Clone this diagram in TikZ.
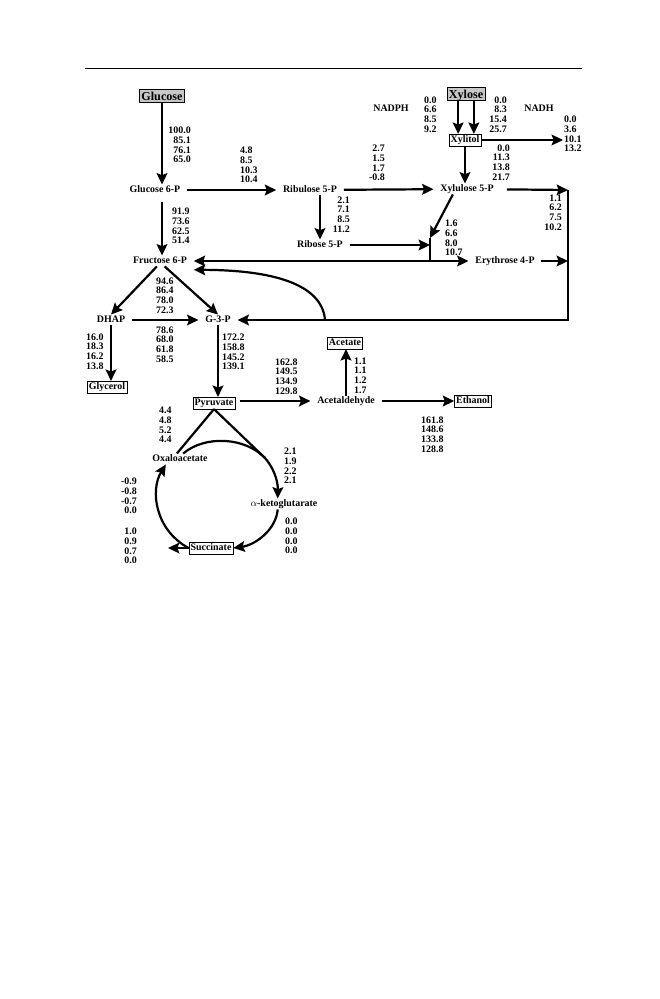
\documentclass[tikz,border=0pt]{standalone}
\usepackage{fontspec}
\setmainfont{Liberation Serif}
\usetikzlibrary{arrows.meta}

\begin{document}
\begin{tikzpicture}[
  x=0.0318cm, y=-0.0318cm,
  font=\bfseries\fontsize{9}{8.8}\selectfont,
  met/.style={inner xsep=6pt, inner ysep=1pt, text height=6.3pt, text depth=1.2pt},
  boxmet/.style={draw, line width=0.5pt, inner xsep=1.5pt, inner ysep=1.5pt, text height=6.3pt, text depth=1.2pt},
  feed/.style={draw, line width=0.5pt, fill=black!22, font=\bfseries\fontsize{11}{12}\selectfont, inner xsep=1.5pt, inner ysep=2pt, text height=7.6pt, text depth=0.3pt},
  flux/.style={inner sep=0pt, align=right},
  fluxl/.style={inner sep=0pt, align=left},
  arrow/.style={-{Stealth[length=3.6mm, width=3.4mm, inset=0.6mm]}, line width=2pt},
  link/.style={line width=2pt}
]
\useasboundingbox[fill=white] (0,0) rectangle (659,999);
\draw[line width=0.8pt] (85,68) -- (582,68);

% metabolites
\node[feed] (glc) at (162,96) {Glucose};
\node[met] (g6p) at (155,190) {Glucose 6-P};
\node[met] (ru5p) at (310,190) {Ribulose 5-P};
\node[met] (r5p) at (320,245) {Ribose 5-P};
\node[feed] (xyl) at (466,94) {Xylose};
\node[boxmet] (xoh) at (465,140) {Xylitol};
\node[met] (x5p) at (467,189) {Xylulose 5-P};
\node[met] (f6p) at (160,261) {Fructose 6-P};
\node[met] (e4p) at (505,261) {Erythrose 4-P};
\node[met] (dhap) at (111,320) {DHAP};
\node[met] (g3p) at (218,320) {G-3-P};
\node[boxmet] (glyc) at (107,387) {Glycerol};
\node[boxmet] (pyr) at (214,403) {Pyruvate};
\node[met] (acald) at (346,401) {Acetaldehyde};
\node[boxmet] (ac) at (345,343) {Acetate};
\node[boxmet] (etoh) at (473,401) {Ethanol};
\node[met] (oaa) at (180,459) {Oxaloacetate};
\node[met] (akg) at (284,504) {$\alpha$-ketoglutarate};
\node[boxmet] (suc) at (211,548) {Succinate};
\node[met] (nadph) at (391,109) {NADPH};
\node[met] (nadh) at (539,109) {NADH};

\coordinate (jn) at (430,261);
\coordinate (jt) at (430,238);
\coordinate (rtop) at (568,190);
\coordinate (cb) at (325,320);
\coordinate (nadhend) at (563,140);
\coordinate (sucout) at (168,548);
\coordinate (tca) at (265,458);

% reactions
\draw[arrow] (glc) -- (glc |- g6p.north);
\draw[arrow] (g6p) -- (ru5p);
\draw[arrow, shorten <=2mm] (glc |- g6p.south) -- (glc |- f6p.north);
\draw[arrow] (ru5p) -- (x5p);
\draw[arrow] (r5p.north |- ru5p.south) -- (r5p);
\draw[arrow] ([xshift=-0.25cm]xyl.south) -- ([xshift=-0.25cm]xyl.south |- xoh.north);
\draw[arrow] ([xshift=0.25cm]xyl.south) -- ([xshift=0.25cm]xyl.south |- xoh.north);
\draw[arrow] (xoh) -- (nadhend);
\draw[arrow] (xoh) -- (xoh |- x5p.north);
\draw[arrow, shorten <=2mm] (x5p) -- (rtop);
\draw[arrow] ([xshift=-0.45cm]x5p.south) -- (jt);
\draw[arrow] (r5p) -- (r5p -| jn);
\draw[link] (jt) -- (jn);
\draw[arrow] (jn) -- (f6p);
\draw[arrow] (jn) -- (e4p);
\draw[arrow] (e4p) -- (e4p -| rtop);
\draw[arrow] (rtop) |- (g3p);
\draw[arrow] (cb) .. controls (322,283) and (270,270) .. ([yshift=-0.28cm]f6p.east);
\draw[arrow] ([xshift=-0.1cm]f6p.south) -- (dhap.north);
\draw[arrow] ([xshift=0.15cm]f6p.south) -- (g3p.north);
\draw[arrow] (dhap) -- (g3p);
\draw[arrow] (dhap) -- (dhap |- glyc.north);
\draw[arrow] (g3p) -- (g3p |- pyr.north);
\draw[arrow, shorten <=1.5mm] (pyr.east |- acald) -- (acald);
\draw[arrow] (acald) -- (acald |- ac.south);
\draw[arrow] (acald) -- (etoh);
\draw[link] (pyr.south) -- ([xshift=-0.1cm]oaa.north);
\draw[link] (pyr.south) -- (tca);
\draw[arrow] ([xshift=0.1cm]oaa.north) .. controls (205,435) and (245,437) .. (tca)
  .. controls (273,467) and (278,480) .. ([xshift=-0.2cm]akg.north);
\draw[arrow] ([xshift=-0.2cm]akg.south) .. controls (276,530) and (255,545) .. (suc.east);
\draw[arrow] (suc) -- (sucout);
\draw[arrow] (suc.west) .. controls (155,530) and (150,490) .. ([xshift=-0.45cm]oaa.south);

% fluxes
\node[flux, anchor=east] (vglc) at (191,145) {100.0\\85.1\\76.1\\65.0};
\node[fluxl, anchor=west] (vppp) at (240,165) {4.8\\8.5\\10.3\\10.4};
\node[fluxl, anchor=west] (vpgi) at (172,226) {91.9\\73.6\\62.5\\51.4};
\node[flux, anchor=east] (vrpe) at (385,163) {2.7\\1.5\\1.7\\-0.8};
\node[flux, anchor=east] (vrpi) at (350,214.5) {2.1\\7.1\\8.5\\11.2};
\node[fluxl, anchor=west] (vxr) at (424,114.5) {0.0\\6.6\\8.5\\9.2};
\node[flux, anchor=east] (vxr2) at (507,114.5) {0.0\\8.3\\15.4\\25.7};
\node[fluxl, anchor=west] (vxoh) at (564,134) {0.0\\3.6\\10.1\\13.2};
\node[flux, anchor=east] (vxdh) at (510,162.5) {0.0\\11.3\\13.8\\21.7};
\node[fluxl, anchor=west] (vtkt) at (445,238) {1.6\\6.6\\8.0\\10.7};
\node[flux, anchor=east] (vtkt2) at (562,212.5) {1.1\\6.2\\7.5\\10.2};
\node[fluxl, anchor=west] (vald) at (156,295.5) {94.6\\86.4\\78.0\\72.3};
\node[fluxl, anchor=west] (vtpi) at (156,344.5) {78.6\\68.0\\61.8\\58.5};
\node[fluxl, anchor=west] (vgpd) at (86,351.5) {16.0\\18.3\\16.2\\13.8};
\node[fluxl, anchor=west] (vgap) at (222,352) {172.2\\158.8\\145.2\\139.1};
\node[fluxl, anchor=west] (vpdc) at (275,376.5) {162.8\\149.5\\134.9\\129.8};
\node[fluxl, anchor=west] (vacs) at (354,375.5) {1.1\\1.1\\1.2\\1.7};
\node[fluxl, anchor=west] (vadh) at (421,434.5) {161.8\\148.6\\133.8\\128.8};
\node[fluxl, anchor=west] (vpyc) at (159,425) {4.4\\4.8\\5.2\\4.4};
\node[fluxl, anchor=west] (vakg) at (284,466) {2.1\\1.9\\2.2\\2.1};
\node[fluxl, anchor=west] (vsuc) at (285,536) {0.0\\0.0\\0.0\\0.0};
\node[flux, anchor=east] (vsdh) at (137,496) {-0.9\\-0.8\\-0.7\\0.0};
\node[flux, anchor=east] (vsucx) at (137,546) {1.0\\0.9\\0.7\\0.0};
\end{tikzpicture}
\end{document}
